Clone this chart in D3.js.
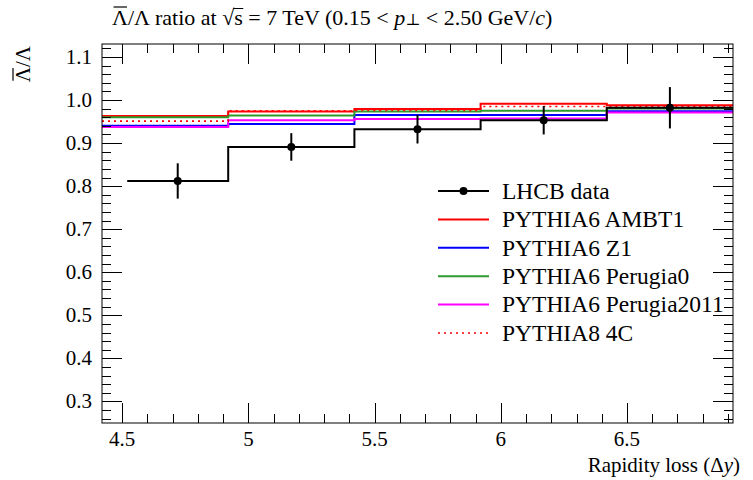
<!DOCTYPE html>
<html>
<head>
<meta charset="utf-8">
<script src="https://cdn.jsdelivr.net/npm/d3@7"></script>
<style>
  body { margin: 0; background: #fff; }
</style>
</head>
<body>
<script>
// bins in rapidity loss
var modelEdges = [4.42, 4.92, 5.42, 5.92, 6.42, 6.92];
var dataEdges  = [4.52, 4.92, 5.42, 5.92, 6.42, 6.92];
var dataX      = [4.72, 5.17, 5.67, 6.17, 6.67];

// LHCb measurement
var lhcbRatio = [0.812, 0.891, 0.932, 0.953, 0.982];
var lhcbErr   = [0.041, 0.032, 0.033, 0.033, 0.048];

// generator predictions
var ambt1       = [0.963, 0.973, 0.979, 0.991, 0.988];
var z1          = [0.940, 0.944, 0.965, 0.965, 0.974];
var perugia0    = [0.960, 0.964, 0.973, 0.975, 0.980];
var perugia2011 = [0.937, 0.953, 0.956, 0.957, 0.971];
var pythia8_4c  = [0.951, 0.975, 0.976, 0.985, 0.985];

var xTicks = [4.5, 5, 5.5, 6, 6.5];
var xTickLabels = ["4.5", "5", "5.5", "6", "6.5"];
var yTicks = [0.3, 0.4, 0.5, 0.6, 0.7, 0.8, 0.9, 1.0, 1.1];
var yTickLabels = ["0.3", "0.4", "0.5", "0.6", "0.7", "0.8", "0.9", "1.0", "1.1"];

var legendNames = ["LHCB data", "PYTHIA6 AMBT1", "PYTHIA6 Z1", "PYTHIA6 Perugia0", "PYTHIA6 Perugia2011", "PYTHIA8 4C"];

var W = 753, H = 480;
var margin = {top: 44, right: 20, bottom: 57, left: 102},
    width = W - margin.left - margin.right,
    height = H - margin.top - margin.bottom;

var x = d3.scaleLinear().domain([4.42, 6.92]).range([0, width]);
var y = d3.scaleLinear().domain([0.25, 1.13]).range([height, 0]);

var svg = d3.select("body").append("svg")
    .attr("width", W)
    .attr("height", H)
    .attr("font-family", "'Liberation Serif', 'DejaVu Serif', serif");

var g = svg.append("g")
    .attr("transform", "translate(" + margin.left + "," + margin.top + ")");

var plot = g.append("g");

// step line through the bin edges
function stepPath(edges, vals) {
  var pts = vals.map(function(v, i) { return [edges[i], v]; });
  pts.push([edges[edges.length - 1], vals[vals.length - 1]]);
  return d3.line()
    .x(function(d) { return x(d[0]); })
    .y(function(d) { return y(d[1]); })
    .curve(d3.curveStepAfter)(pts);
}

var models = [
  {vals: ambt1, color: "#ff0000", dash: null},
  {vals: z1, color: "#0000ff", dash: null},
  {vals: perugia0, color: "#2e9a2e", dash: null},
  {vals: perugia2011, color: "#ff00ff", dash: null},
  {vals: pythia8_4c, color: "#ff0000", dash: "2,4"}
];

models.forEach(function(m) {
  plot.append("path")
      .attr("d", stepPath(modelEdges, m.vals))
      .attr("fill", "none")
      .attr("stroke", m.color)
      .attr("stroke-width", m.dash ? 1.6 : 2)
      .attr("stroke-dasharray", m.dash);
});

// data
plot.append("path")
    .attr("d", stepPath(dataEdges, lhcbRatio))
    .attr("fill", "none")
    .attr("stroke", "#000")
    .attr("stroke-width", 2);

plot.selectAll(".err")
    .data(lhcbRatio)
  .enter().append("line")
    .attr("class", "err")
    .attr("x1", function(d, i) { return x(dataX[i]); })
    .attr("x2", function(d, i) { return x(dataX[i]); })
    .attr("y1", function(d, i) { return y(d - lhcbErr[i]); })
    .attr("y2", function(d, i) { return y(d + lhcbErr[i]); })
    .attr("stroke", "#000")
    .attr("stroke-width", 2);

plot.selectAll(".dot")
    .data(lhcbRatio)
  .enter().append("circle")
    .attr("class", "dot")
    .attr("cx", function(d, i) { return x(dataX[i]); })
    .attr("cy", function(d) { return y(d); })
    .attr("r", 4);

// frame + ticks (all four sides)
g.append("rect")
    .attr("width", width)
    .attr("height", height)
    .attr("fill", "none")
    .attr("stroke", "#000")
    .attr("stroke-width", 1);

var xMinor = d3.range(4.5, 6.95, 0.1).map(function(v) { return +v.toFixed(2); });
var yMinor = d3.range(0.26, 1.13, 0.02).map(function(v) { return +v.toFixed(2); });

function tick(x1, y1, x2, y2) {
  g.append("line")
      .attr("x1", x1).attr("y1", y1).attr("x2", x2).attr("y2", y2)
      .attr("stroke", "#000").attr("stroke-width", 1);
}

xMinor.forEach(function(v) {
  var major = xTicks.indexOf(v) >= 0, len = major ? 20 : 9;
  var px = Math.round(x(v)) + 0.5;
  tick(px, height, px, height - len);
  tick(px, 0, px, len);
});
yMinor.forEach(function(v) {
  var major = yTicks.some(function(t) { return Math.abs(t - v) < 1e-6; }), len = major ? 20 : 9;
  var py = Math.round(y(v)) + 0.5;
  tick(0, py, len, py);
  tick(width, py, width - len, py);
});

g.selectAll(".xlab")
    .data(xTicks)
  .enter().append("text")
    .attr("class", "xlab")
    .attr("x", function(d) { return x(d); })
    .attr("y", height + 23)
    .attr("text-anchor", "middle")
    .attr("font-size", 21)
    .text(function(d, i) { return xTickLabels[i]; });

g.selectAll(".ylab")
    .data(yTicks)
  .enter().append("text")
    .attr("class", "ylab")
    .attr("x", -10)
    .attr("y", function(d) { return y(d); })
    .attr("dy", "0.33em")
    .attr("text-anchor", "end")
    .attr("font-size", 21)
    .text(function(d, i) { return yTickLabels[i]; });

// draws a bar over character i of a text element
function overbar(textEl, i, lift, parent) {
  var node = textEl.node();
  var a = node.getStartPositionOfChar(i), b = node.getEndPositionOfChar(i);
  (parent || svg).append("line")
      .attr("x1", a.x + 1.5).attr("x2", b.x - 1)
      .attr("y1", a.y - lift).attr("y2", a.y - lift)
      .attr("stroke", "#000").attr("stroke-width", 1.2);
}

// axis titles
var xt = svg.append("text")
    .attr("x", 740)
    .attr("y", 472)
    .attr("text-anchor", "end")
    .attr("font-size", 21);
xt.append("tspan").text("Rapidity loss (\u0394");
xt.append("tspan").attr("font-style", "italic").text("y");
xt.append("tspan").text(")");

var yg = svg.append("g").attr("transform", "translate(30,46) rotate(-90)");
var yt = yg.append("text")
    .attr("text-anchor", "end")
    .attr("font-size", 21)
    .text("\u039B/\u039B");
overbar(yt, 0, 17, yg);

// title
var tt = svg.append("text")
    .attr("x", 112)
    .attr("y", 25)
    .attr("font-size", 22);
tt.append("tspan").text("\u039B/\u039B ratio at \u221As = 7 TeV (0.15 < ");
tt.append("tspan").attr("font-style", "italic").text("p");
tt.append("tspan").attr("font-size", 16).text("\u22A5");
tt.append("tspan").text(" < 2.50 GeV/");
tt.append("tspan").attr("font-style", "italic").text("c");
tt.append("tspan").text(")");
overbar(tt, 0, 18);
// radical overline over s
(function() {
  var node = tt.node();
  var a = node.getEndPositionOfChar(13), b = node.getEndPositionOfChar(14);
  svg.append("line")
      .attr("x1", a.x - 1).attr("x2", b.x + 0.5)
      .attr("y1", a.y - 16.5).attr("y2", a.y - 16.5)
      .attr("stroke", "#000").attr("stroke-width", 1);
})();

// legend
var legColors = ["#000", "#ff0000", "#0000ff", "#2e9a2e", "#ff00ff", "#ff0000"];
var leg = svg.append("g").attr("transform", "translate(438,191)");
legendNames.forEach(function(name, i) {
  var row = leg.append("g").attr("transform", "translate(0," + (i * 28.4) + ")");
  row.append("line")
      .attr("x1", 0).attr("x2", 51)
      .attr("stroke", legColors[i])
      .attr("stroke-width", i === 5 ? 1.6 : 2)
      .attr("stroke-dasharray", i === 5 ? "2,4" : null);
  if (i === 0) row.append("circle").attr("cx", 25.5).attr("r", 4);
  row.append("text")
      .attr("x", 64)
      .attr("dy", "0.33em")
      .attr("font-size", 23.5)
      .text(name);
});
</script>
</body>
</html>
